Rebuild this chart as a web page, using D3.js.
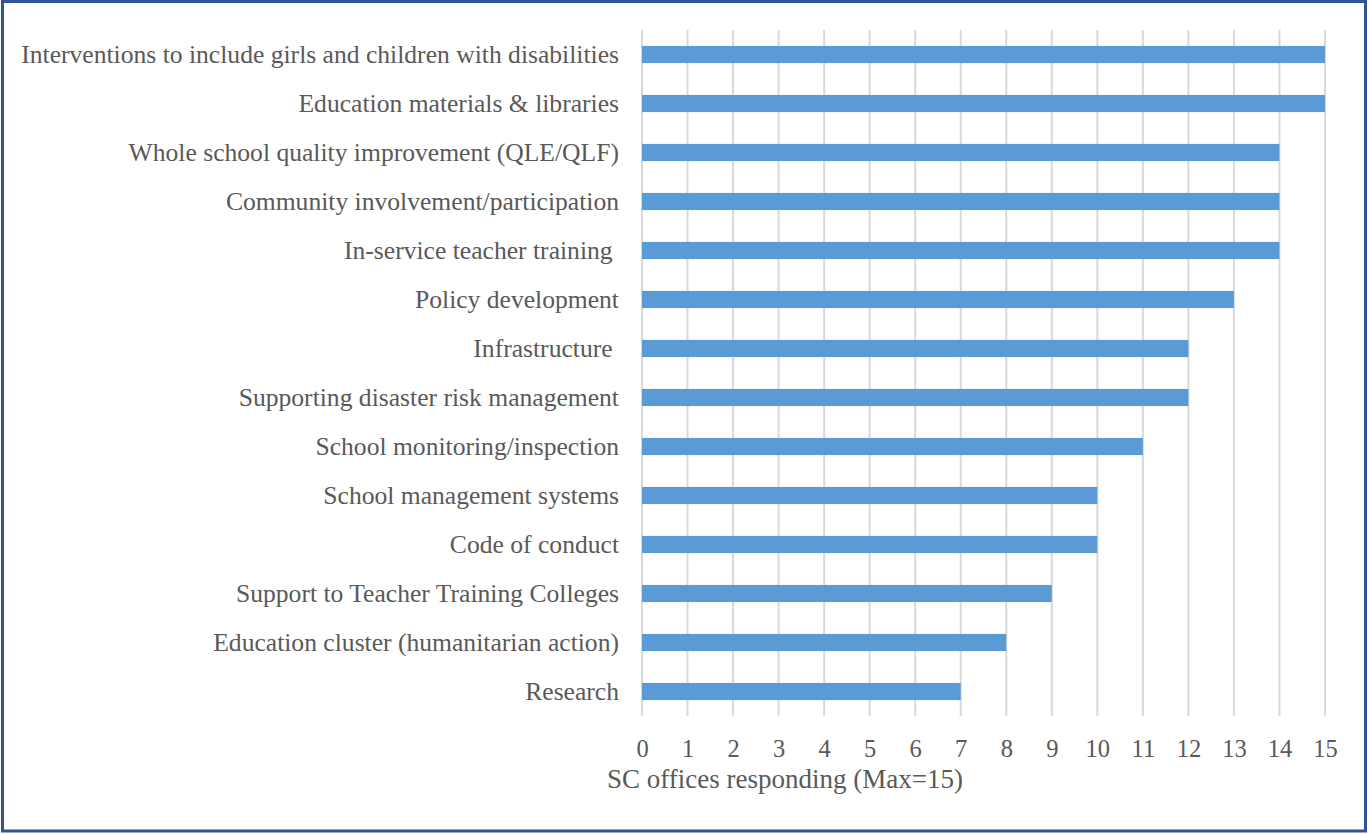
<!DOCTYPE html>
<html><head><meta charset="utf-8">
<script src="https://cdn.jsdelivr.net/npm/d3@7"></script>
<style>
html,body{margin:0;padding:0;background:#fff;}
svg text{white-space:pre;}
</style></head>
<body>
<svg id="chart" width="1368" height="834"></svg>
<script>
const categories = [
  "Interventions to include girls and children with disabilities",
  "Education materials & libraries",
  "Whole school quality improvement (QLE/QLF)",
  "Community involvement/participation",
  "In-service teacher training ",
  "Policy development",
  "Infrastructure ",
  "Supporting disaster risk management",
  "School monitoring/inspection",
  "School management systems",
  "Code of conduct",
  "Support to Teacher Training Colleges",
  "Education cluster (humanitarian action)",
  "Research"
];
const values = [15,15,14,14,14,13,12,12,11,10,10,9,8,7];
const xTicks = [0,1,2,3,4,5,6,7,8,9,10,11,12,13,14,15];
const xTitle = "SC offices responding (Max=15)";

const svg = d3.select("#chart");
const font = "'Liberation Serif', serif";
const grey = "#595959";

svg.append("rect").attr("x",2.5).attr("y",1.5).attr("width",1363).attr("height",829.5)
  .attr("fill","none").attr("stroke","#2F5597").attr("stroke-width",3);

const x = d3.scaleLinear().domain([0,15]).range([642,1325]);
const y = d3.scaleBand().domain(categories).range([30,716]).paddingInner(0.65).paddingOuter(0.325);

// gridlines
svg.append("g").selectAll("line").data(xTicks).join("line")
  .attr("x1",d=>x(d)).attr("x2",d=>x(d)).attr("y1",30).attr("y2",716)
  .attr("stroke","#D9D9D9").attr("stroke-width",2);

// bars
svg.append("g").selectAll("rect").data(values).join("rect")
  .attr("x",x(0)).attr("y",(d,i)=>y(categories[i]))
  .attr("width",d=>x(d)-x(0)).attr("height",y.bandwidth())
  .attr("fill","#5B9BD5");

// y labels
svg.append("g").selectAll("text").data(categories).join("text")
  .attr("x",619).attr("y",d=>y(d)+y.bandwidth()/2).attr("dy","0.35em")
  .attr("text-anchor","end").attr("font-family",font).attr("font-size",25.6)
  .attr("fill",grey).text(d=>d);

// x axis
const xAxis = d3.axisBottom(x).tickValues(xTicks).tickSize(0).tickPadding(0);
const gx = svg.append("g").attr("transform","translate(0,740)").call(xAxis);
gx.select(".domain").remove();
gx.selectAll("text").attr("font-family",font).attr("font-size",24.5).attr("fill",grey).attr("dy","0.71em");

svg.append("text").attr("x",785).attr("y",788).attr("text-anchor","middle")
  .attr("font-family",font).attr("font-size",27).attr("fill",grey).text(xTitle);
</script>
</body></html>
